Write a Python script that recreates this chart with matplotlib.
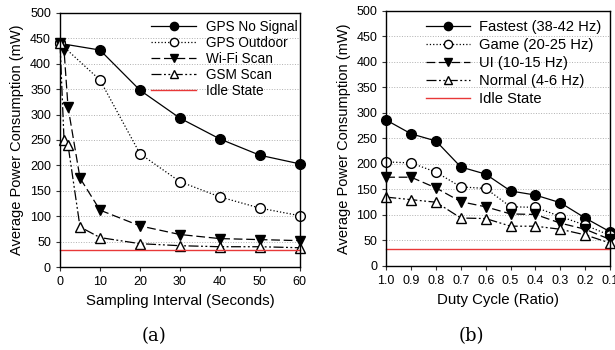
import matplotlib
matplotlib.use("Agg")
import matplotlib.pyplot as plt

plt.rcParams["font.family"] = ["Liberation Sans", "DejaVu Sans"]

# (a) sampling interval
interval = [0, 10, 20, 30, 40, 50, 60]
gps_no_signal = [440, 427, 348, 293, 252, 220, 203]
gps_outdoor = [440, 368, 223, 168, 138, 116, 101]
scan_interval = [0, 1, 2, 5, 10, 20, 30, 40, 50, 60]
wifi_scan = [440, 427, 315, 175, 112, 81, 64, 56, 54, 52]
gsm_scan = [440, 250, 240, 79, 58, 46, 42, 40, 40, 38]
idle_a = 34

# (b) duty cycle
duty = [1.0, 0.9, 0.8, 0.7, 0.6, 0.5, 0.4, 0.3, 0.2, 0.1]
fastest = [286, 259, 245, 194, 180, 147, 139, 124, 94, 67]
game = [204, 202, 184, 155, 152, 116, 115, 97, 80, 60]
ui = [174, 174, 153, 126, 116, 102, 101, 84, 72, 52]
normal = [135, 130, 125, 94, 93, 78, 78, 72, 61, 45]
idle_b = 34

MS = 7
fig = plt.figure(figsize=(6.15, 3.5), dpi=100)
ax1 = fig.add_axes([0.0976, 0.237, 0.39, 0.726])
ax2 = fig.add_axes([0.628, 0.24, 0.364, 0.729])

dashdotdot = (0, (8, 2, 1.5, 2, 1.5, 2))

ax1.plot(interval, gps_no_signal, "-", color="black", lw=0.9, marker="o", ms=MS,
         mfc="black", label="GPS No Signal")
ax1.plot(interval, gps_outdoor, ":", color="black", lw=0.9, marker="o", ms=MS,
         mfc="white", label="GPS Outdoor")
ax1.plot(scan_interval, wifi_scan, color="black", ls=(0, (7, 3)), lw=0.9, marker="v",
         ms=MS, mfc="black", label="Wi-Fi Scan")
ax1.plot(scan_interval, gsm_scan, color="black", ls=dashdotdot, lw=0.9, marker="^",
         ms=MS, mfc="white", label="GSM Scan")
ax1.axhline(idle_a, color="#e83838", lw=1.0, label="Idle State")
ax1.set_xlim(0, 60)
ax1.set_xticks(range(0, 61, 10))
ax1.set_xlabel("Sampling Interval (Seconds)", fontsize=10.8)

ax2.plot(duty, fastest, "-", color="black", lw=0.9, marker="o", ms=MS,
         mfc="black", label="Fastest (38-42 Hz)")
ax2.plot(duty, game, ":", color="black", lw=0.9, marker="o", ms=MS,
         mfc="white", label="Game (20-25 Hz)")
ax2.plot(duty, ui, color="black", ls=(0, (7, 3)), lw=0.9, marker="v", ms=MS,
         mfc="black", label="UI (10-15 Hz)")
ax2.plot(duty, normal, color="black", ls=dashdotdot, lw=0.9, marker="^", ms=MS,
         mfc="white", label="Normal (4-6 Hz)")
ax2.axhline(idle_b, color="#e83838", lw=1.0, label="Idle State")
ax2.set_xlim(1.0, 0.1)
ax2.set_xticks(duty)
ax2.set_xticklabels([f"{d:.1f}" for d in duty])
ax2.set_xlabel("Duty Cycle (Ratio)", fontsize=10.8)

for ax in (ax1, ax2):
    ax.set_ylim(0, 500)
    ax.set_yticks(range(0, 501, 50))
    ax.set_ylabel("Average Power Consumption (mW)", fontsize=10.5)
    ax.yaxis.grid(True, ls=":", color="#b0b0b0", lw=0.7)
    ax.set_axisbelow(True)
    ax.tick_params(direction="out", labelsize=9, length=3, color="#333333")
    for s in ax.spines.values():
        s.set_linewidth(1.0)
    for line in ax.lines:
        line.set_clip_on(False)

ax1.legend(loc="upper right", bbox_to_anchor=(1.0, 0.984), frameon=False,
           fontsize=9.8, handlelength=3.3, labelspacing=0.15, borderaxespad=0.1,
           borderpad=0.1, handletextpad=0.7, markerscale=0.85)
ax2.legend(loc="upper right", frameon=False, fontsize=10.6, handlelength=3.0,
           labelspacing=0.28, borderaxespad=0.2, handletextpad=0.6,
           markerscale=0.85)

fig.text(0.25, 0.04, "(a)", fontsize=13, family="DejaVu Serif", ha="center",
         va="center")
fig.text(0.766, 0.04, "(b)", fontsize=13, family="DejaVu Serif", ha="center",
         va="center")

fig.savefig("out.png", dpi=100)
